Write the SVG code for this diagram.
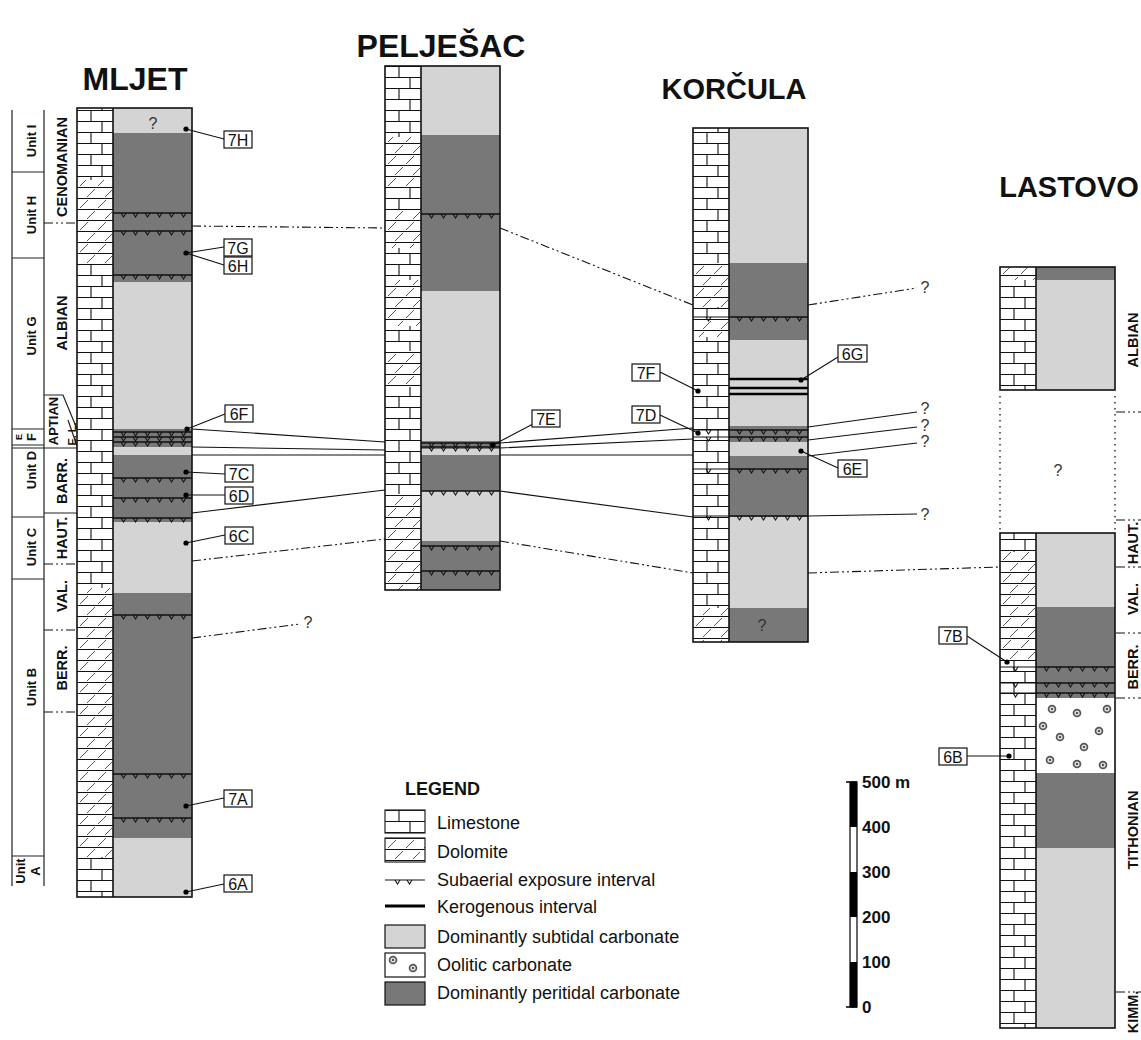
<svg xmlns="http://www.w3.org/2000/svg" xmlns:xlink="http://www.w3.org/1999/xlink" width="1141" height="1040" viewBox="0 0 1141 1040">
<style>
text{font-family:"Liberation Sans",Arial,sans-serif;fill:#111}
.title{font-size:32px;font-weight:bold;text-anchor:middle}
.unit{font-size:13px;font-weight:bold;text-anchor:middle}
.stage{font-size:14.5px;font-weight:bold;text-anchor:middle}
.lbt{font-size:16px;text-anchor:middle}
.q{font-size:16px;text-anchor:middle;fill:#333}
.leg{font-size:18px}
.legh{font-size:18px;font-weight:bold}
.sc{font-size:17px;font-weight:bold}
.sub{fill:#d4d4d4}
.per{fill:#787878}
.ol{fill:none;stroke:#111;stroke-width:1.6}
.fr{fill:none;stroke:#222;stroke-width:1.2}
.cl{fill:none;stroke:#111;stroke-width:1.1}
.dd{stroke-dasharray:9 3 2 3 2 3}
.dt{fill:none;stroke:#222;stroke-width:1.4;stroke-dasharray:1.5 4.5}
.lb{fill:#fff;stroke:#111;stroke-width:1.2}
.ker{stroke:#000;stroke-width:2.4}
</style>
<defs>
<pattern id="ls" width="36" height="22" patternUnits="userSpaceOnUse">
<rect width="36" height="22" fill="#fff"/>
<path d="M0 0.5H36M0 11.5H36M14 0.5V11.5M25 11.5V22" stroke="#111" stroke-width="1.1" fill="none"/>
</pattern>
<pattern id="dol" width="36" height="22" patternUnits="userSpaceOnUse">
<rect width="36" height="22" fill="#fff"/>
<path d="M0 0.5H36M0 11.5H36" stroke="#111" stroke-width="1" fill="none"/>
<path d="M3 10L11 2M21 10L29 2M10 21L18 13M28 21L35 14" stroke="#444" stroke-width="0.9" fill="none"/>
</pattern>
<g id="sa">
<path d="M0 0H79" fill="none" stroke="#111" stroke-width="1.3"/>
<path d="M8 0l2.5 4l2.5-4M20 0l2.5 4l2.5-4M32 0l2.5 4l2.5-4M44 0l2.5 4l2.5-4M56 0l2.5 4l2.5-4M68 0l2.5 4l2.5-4" fill="none" stroke="#111" stroke-width="1.1"/>
</g>
<g id="sal">
<path d="M0 0H36M13 0l2.5 4l2.5-4" fill="none" stroke="#111" stroke-width="1.1"/>
</g>
<g id="oo">
<circle r="4.3" fill="#555"/>
<circle r="2.6" fill="#ddd"/>
<circle r="1.1" fill="#333"/>
</g>
</defs>
<rect width="1141" height="1040" fill="#fff"/>

<!-- titles -->
<text class="title" x="135" y="90">MLJET</text>
<text class="title" x="441" y="57">PELJEŠAC</text>
<text class="title" style="font-size:29px" x="734" y="99">KORČULA</text>
<text class="title" style="font-size:29px" x="1069" y="197">LASTOVO</text>

<!-- Mljet stratigraphic frame -->
<g id="mljet-frame">
<path class="fr" d="M12 110V886M44 110V886"/>
<path class="fr" d="M12 172H44M12 258H44M12 429H44M12 445H44M12 448H77M12 517H44M12 579H44M12 856H44"/>
<path class="fr" d="M44 395H63L77 429M68 420L77 446M44 513H77"/>
<path class="cl dd" d="M44 223H77M44 564H77M44 630H77M44 712H77"/>
<text class="unit" transform="translate(31,141) rotate(-90)" dy="4.5">Unit I</text>
<text class="unit" transform="translate(31,215) rotate(-90)" dy="4.5">Unit H</text>
<text class="unit" transform="translate(31,336) rotate(-90)" dy="4.5">Unit G</text>
<text class="unit" style="font-size:9px" transform="translate(19,437) rotate(-90)" dy="3">E</text>
<text class="unit" transform="translate(31,437) rotate(-90)" dy="4.5">F</text>
<text class="unit" transform="translate(31,470) rotate(-90)" dy="4.5">Unit D</text>
<text class="unit" transform="translate(31,547) rotate(-90)" dy="4.5">Unit C</text>
<text class="unit" transform="translate(31,687) rotate(-90)" dy="4.5">Unit B</text>
<text class="unit" transform="translate(20,871) rotate(-90)" dy="4.5">Unit</text>
<text class="unit" transform="translate(35,871) rotate(-90)" dy="4.5">A</text>
<text class="stage" transform="translate(62,167) rotate(-90)" dy="5">CENOMANIAN</text>
<text class="stage" transform="translate(62,323) rotate(-90)" dy="5">ALBIAN</text>
<text class="stage" style="font-size:13px" transform="translate(53,421) rotate(-90)" dy="4.5">APTIAN</text>
<text class="stage" style="font-size:11px" transform="translate(72,434) rotate(-90)" dy="4">E. L.</text>
<text class="stage" transform="translate(62,481) rotate(-90)" dy="5">BARR.</text>
<text class="stage" transform="translate(62,538) rotate(-90)" dy="5">HAUT.</text>
<text class="stage" transform="translate(62,596) rotate(-90)" dy="5">VAL.</text>
<text class="stage" transform="translate(62,668) rotate(-90)" dy="5">BERR.</text>
</g>

<!-- MLJET column -->
<g id="mljet" transform="translate(77,0)">
<rect x="0" y="108" width="36" height="72" fill="url(#ls)"/>
<rect x="0" y="180" width="36" height="85" fill="url(#dol)"/>
<rect x="0" y="265" width="36" height="323" fill="url(#ls)"/>
<rect x="0" y="588" width="36" height="269" fill="url(#dol)"/>
<rect x="0" y="857" width="36" height="40" fill="url(#ls)"/>
<rect class="sub" x="36" y="108" width="79" height="25"/>
<rect class="per" x="36" y="133" width="79" height="149"/>
<rect class="sub" x="36" y="282" width="79" height="147"/>
<rect class="per" x="36" y="429" width="79" height="18"/>
<rect class="sub" x="36" y="447" width="79" height="8"/>
<rect class="per" x="36" y="455" width="79" height="67"/>
<rect class="sub" x="36" y="522" width="79" height="71"/>
<rect class="per" x="36" y="593" width="79" height="245"/>
<rect class="sub" x="36" y="838" width="79" height="59"/>
<use href="#sa" x="36" y="213"/><use href="#sa" x="36" y="231"/><use href="#sa" x="36" y="275"/>
<use href="#sa" x="36" y="432"/><use href="#sa" x="36" y="437"/><use href="#sa" x="36" y="442"/>
<use href="#sa" x="36" y="478"/><use href="#sa" x="36" y="498"/><use href="#sa" x="36" y="518"/>
<use href="#sa" x="36" y="615"/><use href="#sa" x="36" y="774"/><use href="#sa" x="36" y="818"/>
<rect class="ol" x="0" y="108" width="115" height="789"/>
<line class="ol" x1="36" y1="108" x2="36" y2="897"/>
<text class="q" x="76" y="129">?</text>
</g>

<!-- PELJESAC column -->
<g id="peljesac" transform="translate(385,0)">
<rect x="0" y="66" width="36" height="71" fill="url(#ls)"/>
<rect x="0" y="137" width="36" height="50" fill="url(#dol)"/>
<rect x="0" y="187" width="36" height="22" fill="url(#ls)"/>
<rect x="0" y="209" width="36" height="39" fill="url(#dol)"/>
<rect x="0" y="248" width="36" height="32" fill="url(#ls)"/>
<rect x="0" y="280" width="36" height="46" fill="url(#dol)"/>
<rect x="0" y="326" width="36" height="25" fill="url(#ls)"/>
<rect x="0" y="351" width="36" height="36" fill="url(#dol)"/>
<rect x="0" y="387" width="36" height="107" fill="url(#ls)"/>
<rect x="0" y="494" width="36" height="96" fill="url(#dol)"/>
<rect class="sub" x="36" y="66" width="79" height="69"/>
<rect class="per" x="36" y="135" width="79" height="156"/>
<rect class="sub" x="36" y="291" width="79" height="150"/>
<rect class="per" x="36" y="441" width="79" height="8"/>
<rect class="sub" x="36" y="449" width="79" height="6"/>
<rect class="per" x="36" y="455" width="79" height="36"/>
<rect class="sub" x="36" y="491" width="79" height="50"/>
<rect class="per" x="36" y="541" width="79" height="49"/>
<use href="#sa" x="36" y="214"/><use href="#sa" x="36" y="443"/><use href="#sa" x="36" y="447"/>
<use href="#sa" x="36" y="491"/><use href="#sa" x="36" y="546"/><use href="#sa" x="36" y="571"/>
<rect class="ol" x="0" y="66" width="115" height="524"/>
<line class="ol" x1="36" y1="66" x2="36" y2="590"/>
</g>

<!-- KORCULA column -->
<g id="korcula" transform="translate(693,0)">
<rect x="0" y="128" width="36" height="135" fill="url(#ls)"/>
<rect x="0" y="263" width="36" height="44" fill="url(#dol)"/>
<rect x="0" y="307" width="36" height="11" fill="url(#ls)"/>
<rect x="0" y="318" width="36" height="19" fill="url(#dol)"/>
<rect x="0" y="337" width="36" height="271" fill="url(#ls)"/>
<rect x="0" y="608" width="36" height="34" fill="url(#dol)"/>
<rect class="sub" x="36" y="128" width="79" height="135"/>
<rect class="per" x="36" y="263" width="79" height="77"/>
<rect class="sub" x="36" y="340" width="79" height="86"/>
<rect class="per" x="36" y="426" width="79" height="16"/>
<rect class="sub" x="36" y="442" width="79" height="14"/>
<rect class="per" x="36" y="456" width="79" height="61"/>
<rect class="sub" x="36" y="517" width="79" height="91"/>
<rect class="per" x="36" y="608" width="79" height="34"/>
<path class="ker" d="M36 379H115M36 388H115M36 394H115"/>
<use href="#sa" x="36" y="317"/><use href="#sa" x="36" y="430"/><use href="#sa" x="36" y="437"/>
<use href="#sa" x="36" y="469"/><use href="#sa" x="36" y="516"/>
<use href="#sal" x="0" y="317"/><use href="#sal" x="0" y="430"/><use href="#sal" x="0" y="437"/>
<use href="#sal" x="0" y="469"/><use href="#sal" x="0" y="516"/>
<rect class="ol" x="0" y="128" width="115" height="514"/>
<line class="ol" x1="36" y1="128" x2="36" y2="642"/>
<text class="q" x="69" y="631">?</text>
</g>

<!-- LASTOVO column -->
<g id="lastovo" transform="translate(1000,0)">
<rect x="0" y="267" width="36" height="13" fill="url(#dol)"/>
<rect x="0" y="280" width="36" height="110" fill="url(#ls)"/>
<rect class="per" x="36" y="267" width="79" height="13"/>
<rect class="sub" x="36" y="280" width="79" height="110"/>
<rect class="ol" x="0" y="267" width="115" height="123"/>
<line class="ol" x1="36" y1="267" x2="36" y2="390"/>
<line class="dt" x1="0" y1="396" x2="0" y2="530"/>
<line class="dt" x1="115" y1="396" x2="115" y2="530"/>
<text class="q" x="58" y="476">?</text>
<rect x="0" y="533" width="36" height="19" fill="url(#ls)"/>
<rect x="0" y="552" width="36" height="108" fill="url(#dol)"/>
<rect x="0" y="660" width="36" height="368" fill="url(#ls)"/>
<rect class="sub" x="36" y="533" width="79" height="74"/>
<rect class="per" x="36" y="607" width="79" height="91"/>
<rect x="36" y="698" width="79" height="75" fill="#fff"/>
<rect class="per" x="36" y="773" width="79" height="75"/>
<rect class="sub" x="36" y="848" width="79" height="180"/>
<use href="#sa" x="36" y="667"/><use href="#sa" x="36" y="683"/><use href="#sa" x="36" y="693"/>
<use href="#sal" x="0" y="667"/><use href="#sal" x="0" y="683"/><use href="#sal" x="0" y="693"/>
<use href="#oo" x="52" y="709"/><use href="#oo" x="77" y="713"/><use href="#oo" x="107" y="709"/>
<use href="#oo" x="43" y="726"/><use href="#oo" x="99" y="731"/><use href="#oo" x="60" y="737"/>
<use href="#oo" x="84" y="747"/><use href="#oo" x="50" y="760"/><use href="#oo" x="77" y="764"/>
<use href="#oo" x="103" y="765"/>
<rect class="ol" x="0" y="533" width="115" height="495"/>
<line class="ol" x1="36" y1="533" x2="36" y2="1028"/>
</g>

<!-- Lastovo stage labels -->
<g id="lastovo-stages">
<path class="cl dd" d="M1116 412H1141M1116 520H1141M1116 567H1141M1116 633H1141M1116 698H1141M1116 992H1141"/>
<text class="stage" transform="translate(1133,340) rotate(-90)" dy="5">ALBIAN</text>
<text class="stage" transform="translate(1133,543) rotate(-90)" dy="5">HAUT.</text>
<text class="stage" transform="translate(1133,599) rotate(-90)" dy="5">VAL.</text>
<text class="stage" transform="translate(1133,667) rotate(-90)" dy="5">BERR.</text>
<text class="stage" transform="translate(1133,830) rotate(-90)" dy="5">TITHONIAN</text>
<text class="stage" transform="translate(1133,1012) rotate(-90)" dy="5">KIMM.</text>
</g>

<!-- correlation lines and leaders -->
<g id="connectors">
<path class="cl dd" d="M192 226L385 228M192 561L385 539M192 638L300 624"/>
<path class="cl" d="M192 429L385 442M192 447L385 450M192 455L385 455M192 513L385 490"/>
<path class="cl dd" d="M500 228L693 305M500 541L693 573"/>
<path class="cl" d="M500 443L693 428M500 448L693 439M500 455L693 455M500 491L693 517"/>
<path class="cl dd" d="M808 305L917 288M808 573L1000 567"/>
<path class="cl" d="M808 427L917 412M808 440L917 427M808 456L917 443M808 516L917 514"/>
<text class="q" x="308" y="628">?</text>
<text class="q" x="925" y="293">?</text>
<text class="q" x="925" y="414">?</text>
<text class="q" x="925" y="431">?</text>
<text class="q" x="925" y="447">?</text>
<text class="q" x="925" y="520">?</text>
<path class="cl" d="M186 129L224 139M186 253L224 247M186 253L224 265M187 429L225 414M186 472L225 474M186 495L225 495M186 543L225 535M186 806L224 798M186 892L224 884"/>
<path class="cl" d="M493 445L533 424M660 372L698 391M660 415L698 433M801 380L838 357M801 451L838 468M967 636L1007 662M967 756L1009 756"/>
<g fill="#000">
<circle cx="186" cy="129" r="2.6"/><circle cx="186" cy="253" r="2.6"/><circle cx="187" cy="429" r="2.6"/>
<circle cx="186" cy="472" r="2.6"/><circle cx="186" cy="495" r="2.6"/><circle cx="186" cy="543" r="2.6"/>
<circle cx="186" cy="806" r="2.6"/><circle cx="186" cy="892" r="2.6"/><circle cx="493" cy="445" r="2.6"/>
<circle cx="698" cy="391" r="2.6"/><circle cx="698" cy="433" r="2.6"/><circle cx="801" cy="380" r="2.6"/>
<circle cx="801" cy="451" r="2.6"/><circle cx="1007" cy="662" r="2.6"/><circle cx="1009" cy="756" r="2.6"/>
</g>
</g>

<!-- sample labels -->
<g id="lbl-7H"><rect class="lb" x="224" y="131" width="28" height="17"/><text class="lbt" x="238" y="145.5">7H</text></g>
<g id="lbl-7G"><rect class="lb" x="224" y="239" width="28" height="17"/><text class="lbt" x="238" y="253.5">7G</text></g>
<g id="lbl-6H"><rect class="lb" x="224" y="257" width="28" height="17"/><text class="lbt" x="238" y="271.5">6H</text></g>
<g id="lbl-6F"><rect class="lb" x="225" y="405" width="28" height="17"/><text class="lbt" x="239" y="419.5">6F</text></g>
<g id="lbl-7C"><rect class="lb" x="225" y="465" width="28" height="17"/><text class="lbt" x="239" y="479.5">7C</text></g>
<g id="lbl-6D"><rect class="lb" x="225" y="487" width="28" height="17"/><text class="lbt" x="239" y="501.5">6D</text></g>
<g id="lbl-6C"><rect class="lb" x="225" y="527" width="28" height="17"/><text class="lbt" x="239" y="541.5">6C</text></g>
<g id="lbl-7A"><rect class="lb" x="224" y="790" width="28" height="17"/><text class="lbt" x="238" y="804.5">7A</text></g>
<g id="lbl-6A"><rect class="lb" x="224" y="875" width="28" height="17"/><text class="lbt" x="238" y="889.5">6A</text></g>
<g id="lbl-7E"><rect class="lb" x="532" y="410" width="28" height="17"/><text class="lbt" x="546" y="424.5">7E</text></g>
<g id="lbl-7F"><rect class="lb" x="632" y="364" width="28" height="17"/><text class="lbt" x="646" y="378.5">7F</text></g>
<g id="lbl-7D"><rect class="lb" x="632" y="406" width="28" height="17"/><text class="lbt" x="646" y="420.5">7D</text></g>
<g id="lbl-6G"><rect class="lb" x="838" y="345" width="29" height="17"/><text class="lbt" x="852.5" y="359.5">6G</text></g>
<g id="lbl-6E"><rect class="lb" x="838" y="460" width="29" height="17"/><text class="lbt" x="852.5" y="474.5">6E</text></g>
<g id="lbl-7B"><rect class="lb" x="939" y="627" width="28" height="17"/><text class="lbt" x="953" y="641.5">7B</text></g>
<g id="lbl-6B"><rect class="lb" x="939" y="748" width="28" height="17"/><text class="lbt" x="953" y="762.5">6B</text></g>

<!-- legend -->
<g id="legend">
<text class="legh" x="405" y="795">LEGEND</text>
<g transform="translate(385,810)"><rect width="40" height="23" fill="url(#ls)"/><rect width="40" height="23" class="fr"/></g>
<g transform="translate(385,838)"><rect width="40" height="24" fill="url(#dol)"/><rect width="40" height="24" class="fr"/></g>
<path d="M385 880H425" fill="none" stroke="#111" stroke-width="1.2"/>
<path d="M395 880l2.5 4l2.5-4M407 880l2.5 4l2.5-4" fill="none" stroke="#111" stroke-width="1.1"/>
<path d="M385 906H425" stroke="#000" stroke-width="3"/>
<rect class="sub" x="385" y="925" width="40" height="23" stroke="#111" stroke-width="1.2"/>
<rect x="385" y="953" width="40" height="24" fill="#fff" stroke="#111" stroke-width="1.2"/>
<use href="#oo" x="393" y="960"/><use href="#oo" x="413" y="968"/>
<rect class="per" x="385" y="982" width="40" height="23" stroke="#111" stroke-width="1.2"/>
<text class="leg" x="437" y="829">Limestone</text>
<text class="leg" x="437" y="858">Dolomite</text>
<text class="leg" x="437" y="886">Subaerial exposure interval</text>
<text class="leg" x="437" y="913">Kerogenous interval</text>
<text class="leg" x="437" y="943">Dominantly subtidal carbonate</text>
<text class="leg" x="437" y="971">Oolitic carbonate</text>
<text class="leg" x="437" y="999">Dominantly peritidal carbonate</text>
</g>

<!-- scale bar -->
<g id="scale">
<rect x="850" y="782" width="7" height="225" fill="#fff" stroke="#000" stroke-width="1.2"/>
<rect x="850" y="782" width="7" height="45" fill="#000"/>
<rect x="850" y="872" width="7" height="45" fill="#000"/>
<rect x="850" y="962" width="7" height="45" fill="#000"/>
<path d="M846 782H857M846 1007H857" stroke="#000" stroke-width="1.4"/>
<text class="sc" x="862" y="788">500 m</text>
<text class="sc" x="862" y="833">400</text>
<text class="sc" x="862" y="878">300</text>
<text class="sc" x="862" y="923">200</text>
<text class="sc" x="862" y="968">100</text>
<text class="sc" x="862" y="1013">0</text>
</g>
</svg>
